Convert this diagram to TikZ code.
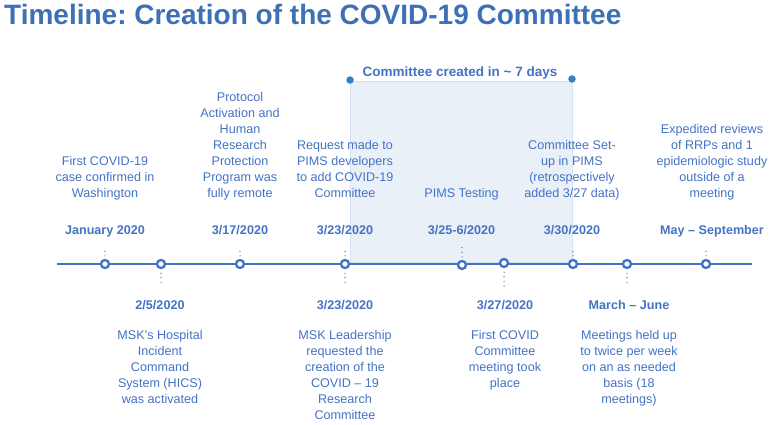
\documentclass[tikz,border=0pt]{standalone}
\usepackage{fontspec}
\setmainfont{Liberation Sans}
\usetikzlibrary{positioning}
\frenchspacing
\definecolor{tlblue}{RGB}{68,114,196}
\definecolor{titleblue}{RGB}{62,112,182}
\definecolor{dotblue}{RGB}{52,128,200}
\definecolor{boxfill}{RGB}{233,240,248}
\definecolor{boxedge}{RGB}{214,227,242}

\tikzset{
  event/.style={circle, draw=tlblue, line width=2.3pt, fill=white, minimum size=8pt, inner sep=0pt},
  cornerdot/.style={circle, fill=dotblue, minimum size=7.5pt, inner sep=0pt},
  datelbl/.style={anchor=base, inner sep=0pt, text=tlblue, font=\fontsize{12.6}{16}\selectfont\bfseries},
  upnote/.style={anchor=south, align=center, inner sep=0pt, text=tlblue, font=\fontsize{12.6}{16}\selectfont,
    execute at begin node=\strut, execute at end node=\strut},
  downnote/.style={upnote, anchor=north},
  leader/.style={black!75, line width=1.2pt, line cap=round, dash pattern=on 0pt off 4.6pt}
}

\begin{document}
\begin{tikzpicture}[x=1pt, y=1pt]
  \useasboundingbox (0,0) rectangle (770,424);
  % title
  \node[anchor=base west, inner sep=0pt, text=titleblue, font=\fontsize{28}{32}\selectfont\bfseries] (title) at (4,399) {Timeline: Creation of the COVID-19 Committee};
  % committee window
  \draw[fill=boxfill, draw=boxedge] (350,162) rectangle (572,343);
  \node[cornerdot] (w1) at (350,344) {};
  \node[cornerdot] (w2) at (572,345) {};
  \node[anchor=base, inner sep=0pt, text=tlblue, font=\fontsize{13.5}{16}\selectfont\bfseries] (window) at (460,348) {Committee created in {\textasciitilde} 7 days};
  % time axis
  \coordinate (axisL) at (57,160);
  \coordinate (axisR) at (752,160);
  \draw[tlblue, line width=2.2pt] (axisL) -- (axisR);
  % leaders above
  \coordinate (t1) at (105,176.5);
  \coordinate (t3) at (240,176.5);
  \coordinate (t4) at (345,176.5);
  \coordinate (t5) at (462,176.5);
  \coordinate (t7) at (573,176.5);
  \coordinate (t9) at (706,176.5);
  % leaders below
  \coordinate (b2) at (161,137.5);
  \coordinate (b4) at (345,137.5);
  \coordinate (b6) at (504,137.5);
  \coordinate (b8) at (627,137.5);
  % events
  \node[event] (e1) at (105,160) {};
  \node[event] (e2) at (161,160) {};
  \node[event] (e3) at (240,160) {};
  \node[event] (e4) at (345,160) {};
  \node[event] (e5) at (462,159) {};
  \node[event] (e6) at (504,161) {};
  \node[event] (e7) at (573,160) {};
  \node[event] (e8) at (627,160) {};
  \node[event] (e9) at (706,160) {};
  \draw[leader] ([yshift=3pt]e1.north) -- (t1);
  \draw[leader] ([yshift=3pt]e3.north) -- (t3);
  \draw[leader] ([yshift=3pt]e4.north) -- (t4);
  \draw[leader] ([yshift=3pt]e5.north) -- (t5);
  \draw[leader] ([yshift=3pt]e7.north) -- (t7);
  \draw[leader] ([yshift=3pt]e9.north) -- (t9);
  \draw[leader] ([yshift=-4pt]e2.south) -- (b2);
  \draw[leader] ([yshift=-4pt]e4.south) -- (b4);
  \draw[leader] ([yshift=-4pt]e6.south) -- (b6);
  \draw[leader] ([yshift=-4pt]e8.south) -- (b8);
  % dates above
  \node[datelbl] (d1) at (105,189.5) {January 2020};
  \node[datelbl] (d3) at (240,189.5) {3/17/2020};
  \node[datelbl] (d4) at (345,189.5) {3/23/2020};
  \node[datelbl] (d5) at (461.5,189.5) {3/25-6/2020};
  \node[datelbl] (d7) at (572,189.5) {3/30/2020};
  \node[datelbl] (d9) at (712,189.5) {May – September};
  % dates below
  \node[datelbl] (d2) at (160,114.5) {2/5/2020};
  \node[datelbl] (d4b) at (345,114.5) {3/23/2020};
  \node[datelbl] (d6) at (505,114.5) {3/27/2020};
  \node[datelbl] (d8) at (629,114.5) {March – June};
  % notes above
  \node[upnote] (n1) at (105,221.2) {First COVID-19\\case confirmed in\\Washington};
  \node[upnote] (n3) at (240,221.2) {Protocol\\Activation and\\Human\\Research\\Protection\\Program was\\fully remote};
  \node[upnote] (n4) at (345,221.2) {Request made to\\PIMS developers\\to add COVID-19\\Committee};
  \node[upnote] (n5) at (461.5,221.2) {PIMS Testing};
  \node[upnote] (n7) at (572,221.2) {Committee Set-\\up in PIMS\\(retrospectively\\added 3/27 data)};
  \node[upnote] (n9) at (712,221.2) {Expedited reviews\\of RRPs and 1\\epidemiologic study\\outside of a\\meeting};
  % notes below
  \node[downnote] (n2) at (160,93.4) {MSK's Hospital\\Incident\\Command\\System (HICS)\\was activated};
  \node[downnote] (n4b) at (345,93.4) {MSK Leadership\\requested the\\creation of the\\COVID – 19\\Research\\Committee};
  \node[downnote] (n6) at (505,93.4) {First COVID\\Committee\\meeting took\\place};
  \node[downnote] (n8) at (629,93.4) {Meetings held up\\to twice per week\\on an as needed\\basis (18\\meetings)};
\end{tikzpicture}
\end{document}
